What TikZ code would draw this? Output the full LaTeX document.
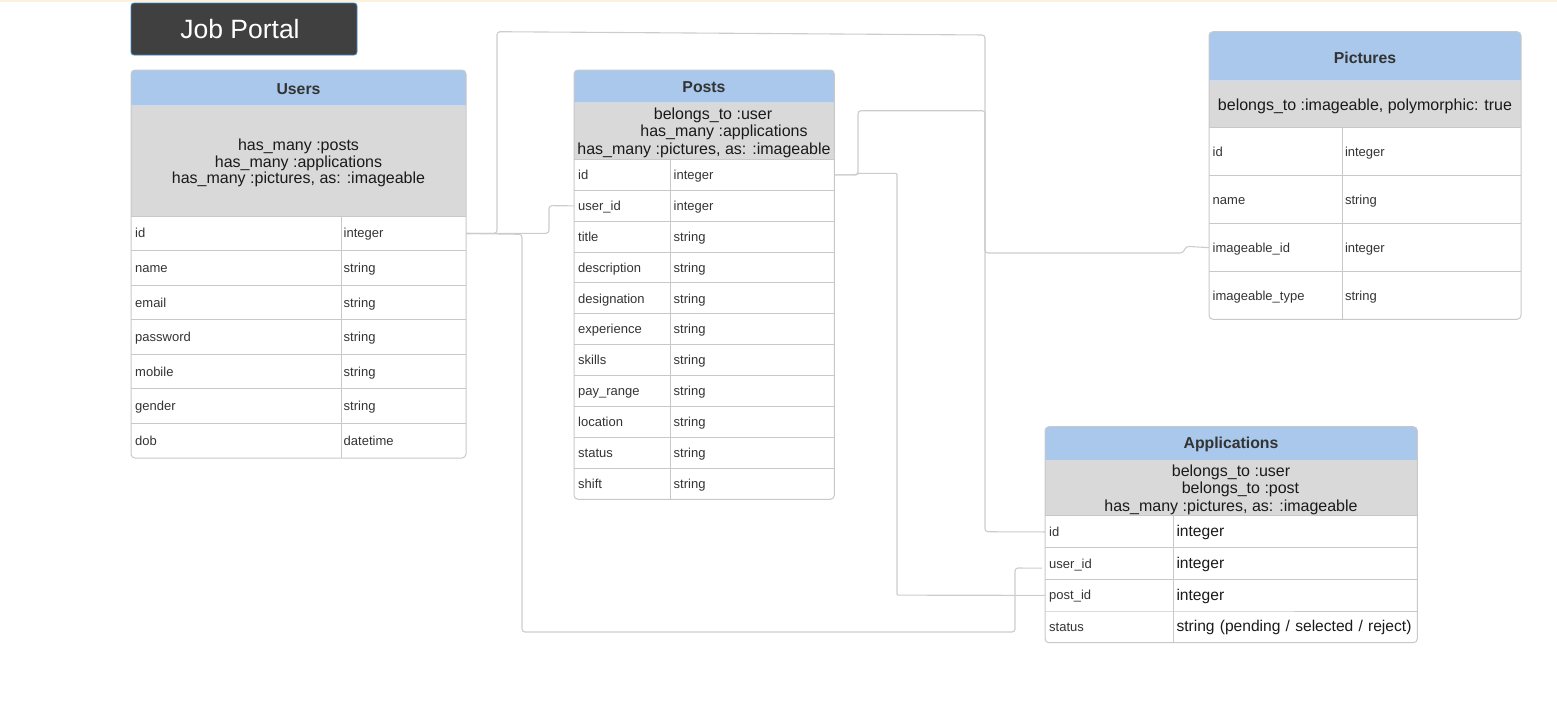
\documentclass[tikz,border=0pt]{standalone}
\usepackage{fontspec}
\setmainfont{Liberation Sans}
\usetikzlibrary{calc}
\definecolor{hdr}{HTML}{A9C8EB}
\definecolor{grp}{HTML}{D9D9D9}
\definecolor{bord}{HTML}{C8C8C8}
\definecolor{conn}{HTML}{CCCCCC}
\definecolor{txt}{HTML}{333333}
\definecolor{ttl}{HTML}{404040}
\definecolor{ttlb}{HTML}{3D85C6}
\definecolor{topl}{HTML}{FBF1DC}
\definecolor{dark}{HTML}{1A1A1A}
\begin{document}
\begin{tikzpicture}[x=1pt,y=-1pt,
  cell/.style={anchor=north west, align=left, inner ysep=0pt, text height=9.6pt, text depth=0.6pt, font=\fontsize{13}{15}\selectfont, text=txt},
  bigcell/.style={anchor=north west, align=left, inner ysep=0pt, text height=11.4pt, text depth=1.6pt, font=\fontsize{15.6}{18}\selectfont, text=dark},
  sep/.style={draw=bord, line width=0.9pt},
  frame/.style={draw=bord, line width=1pt, rounded corners=4pt},
  htext/.style={font=\bfseries\fontsize{15.8}{18}\selectfont, text=txt, inner sep=0pt},
  gtext/.style={align=center, text=dark, inner sep=0pt},
  titlebox/.style={fill=ttl, draw=ttlb, line width=0.8pt, rounded corners=3pt, minimum width=226pt, minimum height=52pt},
  titletext/.style={text=white, font=\fontsize{26.5}{30}\selectfont, inner sep=0pt},
  cn/.style={draw=conn, line width=1.1pt, rounded corners=3pt}]
\useasboundingbox (0,0) rectangle (1557,712);
\fill[topl] (0,0) rectangle (1557,1.5);

% Title
\node[titlebox] (title) at (244,29) {};
\node[titletext] (title-t) at (240,29) {Job Portal};

% ---------------- Users
\fill[hdr, rounded corners=4pt] (131,105.5) -- (131,70) -- (466,70) -- (466,105.5);
\fill[grp] (131,105.5) rectangle (466,216);
\foreach \a/\b [count=\i from 0] in {id/integer,name/string,email/string,password/string,mobile/string,gender/string,dob/datetime}{
  \node[cell, text width=202pt, inner xsep=4pt, minimum height=34.57pt] (u-\i-a) at (131,{216+\i*34.57}) {\a};
  \node[cell, text width=120pt, inner xsep=2.5pt, minimum height=34.57pt] (u-\i-b) at (341,{216+\i*34.57}) {\b};
}
\foreach \i in {0,...,6} \draw[sep] (u-\i-a.north west) -- (u-\i-b.north east);
\draw[sep] (u-0-b.north west) -- (u-6-b.south west);
\draw[frame] (131,70) rectangle (466,458);
\node[htext] (users-h) at (298.5,89) {Users};
\node[gtext, font=\fontsize{16}{16.8}\selectfont] (users-g) at (298.5,163) {has\_many :posts\\has\_many :applications\\has\_many :pictures, as: :imageable};

% ---------------- Posts
\fill[hdr, rounded corners=4pt] (574,102.7) -- (574,70) -- (834.3,70) -- (834.3,102.7);
\fill[grp] (574,102.7) rectangle (834.3,159.3);
\foreach \a/\b [count=\i from 0] in {id/integer,user\_id/integer,title/string,description/string,designation/string,experience/string,skills/string,pay\_range/string,location/string,status/string,shift/string}{
  \node[cell, text width=88pt, inner xsep=4pt, minimum height=30.9pt] (po-\i-a) at (574,{159.3+\i*30.9}) {\a};
  \node[cell, text width=157.3pt, inner xsep=3.5pt, minimum height=30.9pt] (po-\i-b) at (670,{159.3+\i*30.9}) {\b};
}
\foreach \i in {0,...,10} \draw[sep] (po-\i-a.north west) -- (po-\i-b.north east);
\draw[sep] (po-0-b.north west) -- (po-10-b.south west);
\draw[frame] (574,70) rectangle (834.3,499.3);
\node[htext] (posts-h) at (704,87.5) {Posts};
\node[gtext, font=\fontsize{16}{17.5}\selectfont] (posts-g) at (704,132.5) {\hspace*{18pt}belongs\_to :user\\\hspace*{40pt}has\_many :applications\\has\_many :pictures, as: :imageable};

% ---------------- Pictures
\fill[hdr, rounded corners=4pt] (1209,80.7) -- (1209,31.7) -- (1521,31.7) -- (1521,80.7);
\fill[grp] (1209,80.7) rectangle (1521,127.7);
\foreach \a/\b [count=\i from 0] in {id/integer,name/string,imageable\_id/integer,imageable\_type/string}{
  \node[cell, text width=126.3pt, inner xsep=3.5pt, minimum height=47.9pt] (p-\i-a) at (1209,{127.7+\i*47.9}) {\a};
  \node[cell, text width=173.7pt, inner xsep=2.5pt, minimum height=47.9pt] (p-\i-b) at (1342.3,{127.7+\i*47.9}) {\b};
}
\foreach \i in {0,...,3} \draw[sep] (p-\i-a.north west) -- (p-\i-b.north east);
\draw[sep] (p-0-b.north west) -- (p-3-b.south west);
\draw[frame] (1209,31.7) rectangle (1521,319.3);
\node[htext] (pic-h) at (1365,57.5) {Pictures};
\node[gtext, font=\fontsize{16}{17.5}\selectfont] (pic-g) at (1365,106) {belongs\_to :imageable, polymorphic: true};

% ---------------- Applications
\fill[hdr, rounded corners=4pt] (1045,460) -- (1045,426.7) -- (1417.3,426.7) -- (1417.3,460);
\fill[grp] (1045,460) rectangle (1417.3,515.9);
\foreach \a/\b [count=\i from 0] in {id/integer,user\_id/integer,post\_id/integer,status/{string (pending / selected / reject)}}{
  \node[cell, text width=120.3pt, inner xsep=4pt, minimum height=31.7pt] (a-\i-a) at (1045,{515.9+\i*31.7}) {\a};
  \node[bigcell, text width=300pt, inner xsep=3pt, minimum height=31.7pt] (a-\i-b) at (1173.3,{515.9+\i*31.7}) {\b};
}
\foreach \i in {0,...,3} \draw[sep] (a-\i-a.north west) -- (a-\i-a.north east) -- ++(244,0);
\draw[sep] (a-0-b.north west) -- (a-3-b.south west);
\draw[frame] (1045,426.7) rectangle (1417.3,642.7);
\node[htext] (app-h) at (1231,444.5) {Applications};
\node[gtext, font=\fontsize{16}{17.5}\selectfont] (app-g) at (1231,489.5) {belongs\_to :user\\\hspace*{19pt}belongs\_to :post\\has\_many :pictures, as: :imageable};

% ---------------- Connectors
\coordinate (a-uid-end) at ($(a-1-a.west)+(-3,4.5)$);
% Users.id -> Pictures.imageable_id
\draw[cn] (u-0-b.east) -- (497,233.3) -- (497,31.7) -- (985,35) -- (985,253) -- (1183,253) -- (1186,246.3) -- (p-2-a.west);
% Posts.id -> Pictures.imageable_id
\draw[cn] (po-0-b.east) -- (858,174.75) -- (858,110.7) -- (985,110.7) -- (985,253);
% Applications.id -> Pictures.imageable_id
\draw[cn] (a-0-a.west) -- (985,531.75) -- (985,253);
% Users.id -> Posts.user_id
\draw[cn] (u-0-b.east) -- (549,233.3) -- (549,205.65) -- (po-1-a.west);
% Users.id -> Applications.user_id
\draw[cn] (u-0-b.east) -- (522,234.3) -- (522,632) -- (1015,632) -- (1015,568) -- (a-uid-end);
% Posts.id -> Applications.post_id
\draw[cn, rounded corners=1pt] (po-0-b.east) -- (857,174.75) -- (858,173.3) -- (897,173.3) -- (897,595.15) -- (a-2-a.west);
\end{tikzpicture}
\end{document}
